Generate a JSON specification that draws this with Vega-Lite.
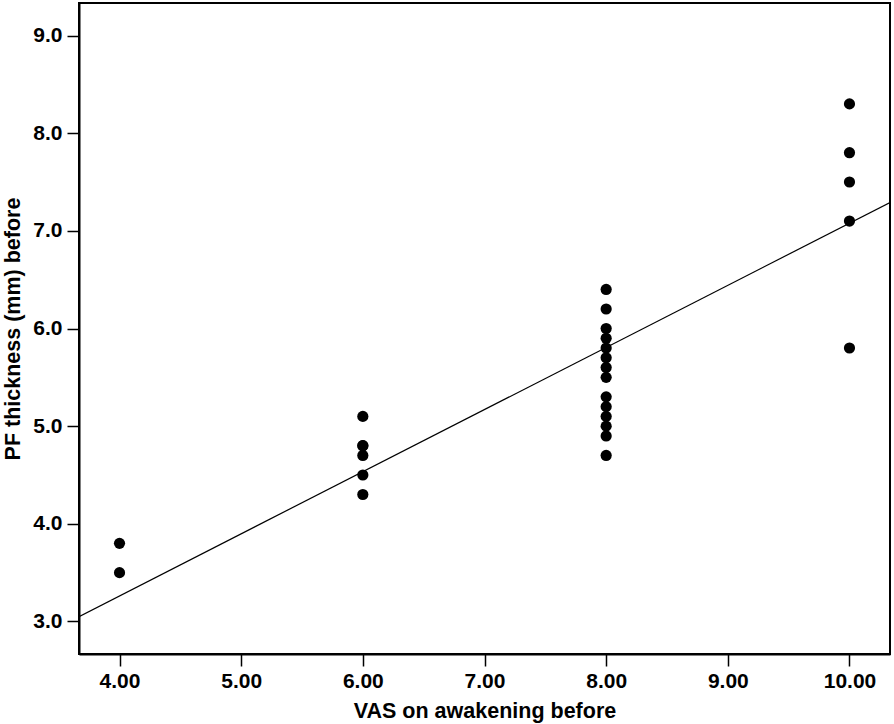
{
  "$schema": "https://vega.github.io/schema/vega-lite/v6.json",
  "width": 811,
  "height": 651,
  "autosize": {"type": "none"},
  "padding": {"left": 79, "top": 3, "right": 4, "bottom": 70},
  "background": "white",
  "config": {
    "view": {"stroke": "black", "strokeWidth": 2},
    "font": "Liberation Sans",
    "axis": {
      "grid": false,
      "domainColor": "black",
      "domainWidth": 2,
      "tickColor": "black",
      "tickWidth": 1.5,
      "tickSize": 12,
      "labelFont": "Liberation Sans",
      "labelFontSize": 21,
      "labelFontWeight": "bold",
      "labelColor": "black",
      "labelPadding": 4,
      "titleFont": "Liberation Sans",
      "titleFontSize": 21.5,
      "titleFontWeight": "bold",
      "titleColor": "black"
    }
  },
  "layer": [
    {
      "data": {
        "values": [
          {"vas": 4, "pf": 3.8}, {"vas": 4, "pf": 3.5},
          {"vas": 6, "pf": 5.1}, {"vas": 6, "pf": 4.8}, {"vas": 6, "pf": 4.8}, {"vas": 6, "pf": 4.7}, {"vas": 6, "pf": 4.5}, {"vas": 6, "pf": 4.3},
          {"vas": 8, "pf": 6.4}, {"vas": 8, "pf": 6.2}, {"vas": 8, "pf": 6.0}, {"vas": 8, "pf": 5.9}, {"vas": 8, "pf": 5.8}, {"vas": 8, "pf": 5.7}, {"vas": 8, "pf": 5.6}, {"vas": 8, "pf": 5.5},
          {"vas": 8, "pf": 5.3}, {"vas": 8, "pf": 5.2}, {"vas": 8, "pf": 5.1}, {"vas": 8, "pf": 5.0}, {"vas": 8, "pf": 4.9}, {"vas": 8, "pf": 4.7},
          {"vas": 10, "pf": 8.3}, {"vas": 10, "pf": 7.8}, {"vas": 10, "pf": 7.5}, {"vas": 10, "pf": 7.1}, {"vas": 10, "pf": 5.8}
        ]
      },
      "mark": {"type": "circle", "size": 125, "color": "black", "opacity": 1},
      "encoding": {
        "x": {
          "field": "vas", "type": "quantitative",
          "scale": {"domain": [3.667, 10.333], "nice": false, "zero": false},
          "axis": {"values": [4, 5, 6, 7, 8, 9, 10], "format": ".2f", "title": "VAS on awakening before", "titlePadding": 9}
        },
        "y": {
          "field": "pf", "type": "quantitative",
          "scale": {"domain": [2.667, 9.333], "nice": false, "zero": false},
          "axis": {"values": [3, 4, 5, 6, 7, 8, 9], "format": ".1f", "title": "PF thickness (mm) before", "titlePadding": 8, "labelPadding": 5}
        }
      }
    },
    {
      "data": {"values": [{"vas": 3.667, "pf": 3.05}, {"vas": 10.333, "pf": 7.29}]},
      "mark": {"type": "line", "color": "black", "strokeWidth": 1.2, "clip": true},
      "encoding": {
        "x": {"field": "vas", "type": "quantitative"},
        "y": {"field": "pf", "type": "quantitative"}
      }
    }
  ]
}
